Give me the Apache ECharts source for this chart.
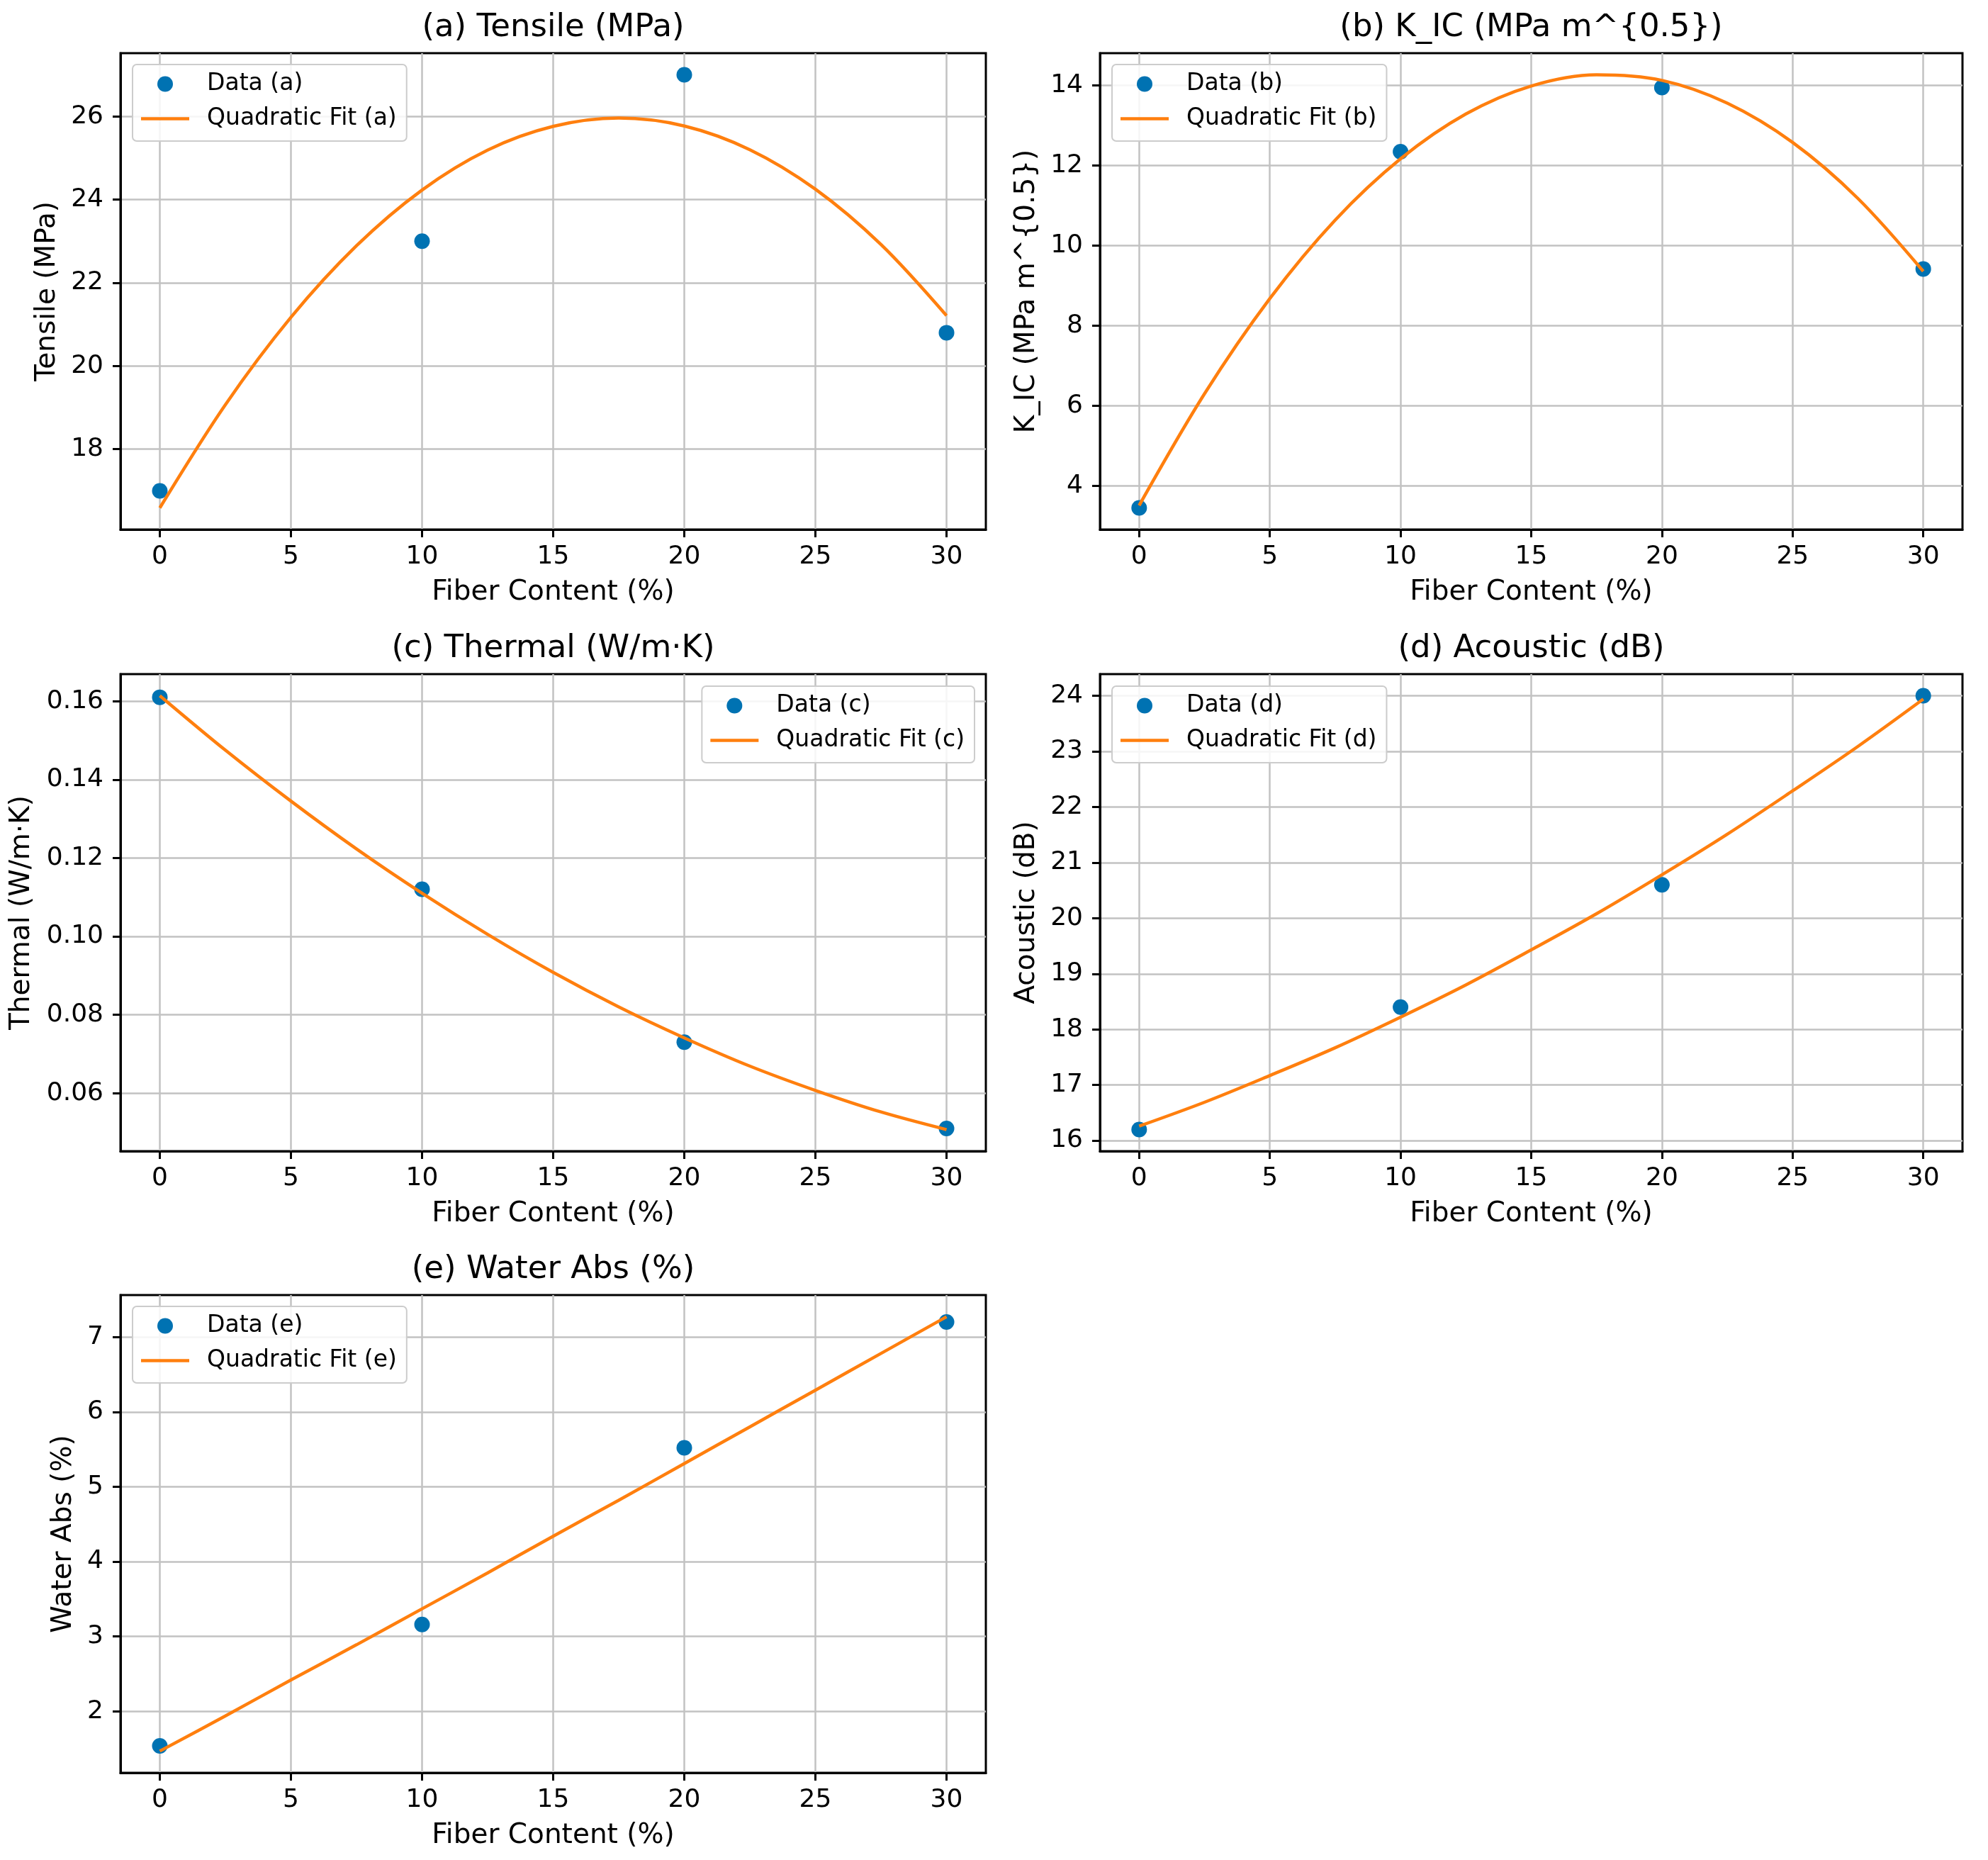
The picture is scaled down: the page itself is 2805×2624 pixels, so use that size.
<!DOCTYPE html>
<html>
<head>
<meta charset="utf-8">
<script src="https://cdn.jsdelivr.net/npm/echarts@6/dist/echarts.min.js"></script>
<style>
  html, body { margin: 0; padding: 0; background: #fff; }
  #main { width: 2805px; height: 2624px; }
</style>
</head>
<body>
<div id="main"></div>
<script>
// fibre content of the measured samples (%)
const fiberX = [0, 10, 20, 30];
const fitX = [0, 2.5, 5, 7.5, 10, 12.5, 15, 17.5, 20, 22.5, 25, 27.5, 30];
const xTicks = [0, 5, 10, 15, 20, 25, 30];

// (a) tensile strength
const tensile = [17.0, 23.0, 27.0, 20.8];
const tensileFit = [16.59, 19.07, 21.17, 22.89, 24.23, 25.19, 25.76, 25.96, 25.77, 25.20, 24.25, 22.92, 21.21];
const tensileTicks = [18, 20, 22, 24, 26];

// (b) fracture toughness
const kic = [3.45, 12.35, 13.95, 9.42];
const kicFit = [3.51, 6.30, 8.68, 10.64, 12.17, 13.29, 13.99, 14.27, 14.13, 13.56, 12.58, 11.18, 9.36];
const kicTicks = [4, 6, 8, 10, 12, 14];

// (c) thermal conductivity
const thermal = [0.161, 0.112, 0.073, 0.051];
const thermalFit = [0.1614, 0.1475, 0.1345, 0.1223, 0.1110, 0.1005, 0.0908, 0.0820, 0.0741, 0.0669, 0.0607, 0.0552, 0.0507];
const thermalTicks = [0.06, 0.08, 0.10, 0.12, 0.14, 0.16];

// (d) acoustic
const acoustic = [16.2, 18.4, 20.6, 24.0];
const acousticFit = [16.26, 16.69, 17.17, 17.67, 18.22, 18.80, 19.43, 20.08, 20.78, 21.51, 22.29, 23.09, 23.94];
const acousticTicks = [16, 17, 18, 19, 20, 21, 22, 23, 24];

// (e) water absorption
const water = [1.54, 3.16, 5.52, 7.20];
const waterFit = [1.47, 1.94, 2.42, 2.89, 3.37, 3.85, 4.34, 4.82, 5.31, 5.80, 6.29, 6.78, 7.27];
const waterTicks = [2, 3, 4, 5, 6, 7];

const FONT = 'DejaVu Sans';
const BLUE = '#0072b2';
const ORANGE = '#ff7f0e';
const GRID_GREY = '#c2c2c2';
// flat bar used as the legend swatch of the fit line
const LINE_ICON = 'path://M0,0H68V4.5H0Z';

const panels = [
    { key: 'a', title: '(a) Tensile (MPa)', yName: 'Tensile (MPa)', data: tensile, fit: tensileFit,
      ticks: tensileTicks, dec: 0, min: 16.07, max: 27.52, box: [170, 75, 1221, 672], nameGap: 84,
      legend: { left: 187, top: 91 } },
    { key: 'b', title: '(b) K_IC (MPa m^{0.5})', yName: 'K_IC (MPa m^{0.5})', data: kic, fit: kicFit,
      ticks: kicTicks, dec: 0, min: 2.91, max: 14.81, box: [1552, 75, 1217, 672], nameGap: 84,
      legend: { left: 1569, top: 91 } },
    { key: 'c', title: '(c) Thermal (W/m·K)', yName: 'Thermal (W/m·K)', data: thermal, fit: thermalFit,
      ticks: thermalTicks, dec: 2, min: 0.0452, max: 0.1669, box: [170, 951, 1221, 673], nameGap: 120,
      legend: { right: 1430, top: 968 } },
    { key: 'd', title: '(d) Acoustic (dB)', yName: 'Acoustic (dB)', data: acoustic, fit: acousticFit,
      ticks: acousticTicks, dec: 0, min: 15.81, max: 24.39, box: [1552, 951, 1217, 673], nameGap: 84,
      legend: { left: 1569, top: 968 } },
    { key: 'e', title: '(e) Water Abs (%)', yName: 'Water Abs (%)', data: water, fit: waterFit,
      ticks: waterTicks, dec: 0, min: 1.18, max: 7.56, box: [170, 1827, 1221, 674], nameGap: 61,
      legend: { left: 187, top: 1843 } }
];

const grid = [], xAxis = [], yAxis = [], series = [], legend = [], graphic = [];

panels.forEach((p, i) => {
    const [left, top, width, height] = p.box;
    grid.push({
        left, top, width, height,
        show: true, borderColor: '#000', borderWidth: 3,
        containLabel: false, outerBoundsMode: 'none'
    });
    xAxis.push({
        gridIndex: i, type: 'value', min: -1.5, max: 31.5,
        name: 'Fiber Content (%)', nameLocation: 'middle', nameGap: 69,
        nameTextStyle: { fontSize: 39, fontFamily: FONT, color: '#000' },
        axisLine: { show: true, onZero: false, lineStyle: { color: '#000', width: 3 } },
        axisTick: { show: true, length: 11, lineStyle: { color: '#000', width: 3 }, customValues: xTicks },
        axisLabel: { fontSize: 36, fontFamily: FONT, color: '#000', margin: 21, customValues: xTicks },
        splitLine: { show: true, lineStyle: { color: GRID_GREY, width: 2.5 } }
    });
    yAxis.push({
        gridIndex: i, type: 'value', min: p.min, max: p.max,
        name: p.yName, nameLocation: 'middle', nameGap: p.nameGap,
        nameTextStyle: { fontSize: 39, fontFamily: FONT, color: '#000' },
        axisLine: { show: true, onZero: false, lineStyle: { color: '#000', width: 3 } },
        axisTick: { show: true, length: 11, lineStyle: { color: '#000', width: 3 }, customValues: p.ticks },
        axisLabel: {
            fontSize: 36, fontFamily: FONT, color: '#000', margin: 24, customValues: p.ticks,
            formatter: v => Number(v).toFixed(p.dec)
        },
        splitLine: { show: true, lineStyle: { color: GRID_GREY, width: 2.5 } }
    });
    series.push({
        type: 'scatter', name: 'Data (' + p.key + ')',
        xAxisIndex: i, yAxisIndex: i,
        data: fiberX.map((x, k) => [x, p.data[k]]),
        symbolSize: 22, itemStyle: { color: BLUE, opacity: 1 }, z: 2
    });
    series.push({
        type: 'line', name: 'Quadratic Fit (' + p.key + ')',
        xAxisIndex: i, yAxisIndex: i,
        data: fitX.map((x, k) => [x, p.fit[k]]),
        smooth: 0.33, symbol: 'none',
        lineStyle: { color: ORANGE, width: 4.5 }, itemStyle: { color: ORANGE }, z: 3
    });
    legend.push(Object.assign({
        orient: 'vertical', selectedMode: false,
        data: [
            { name: 'Data (' + p.key + ')', icon: 'circle' },
            { name: 'Quadratic Fit (' + p.key + ')', icon: LINE_ICON }
        ],
        itemWidth: 68, itemHeight: 22, itemGap: 16,
        padding: [11, 14, 15, 12],
        backgroundColor: 'rgba(255,255,255,0.85)',
        borderColor: '#cccccc', borderWidth: 2, borderRadius: 6,
        itemStyle: { borderWidth: 0 },
        textStyle: { fontSize: 33, fontFamily: FONT, color: '#000', lineHeight: 32, padding: [0, 0, 0, 20] }
    }, p.legend));
    graphic.push({
        type: 'text',
        x: left + width / 2, y: top - 36,
        style: {
            text: p.title, font: '45px "DejaVu Sans"', fill: '#000',
            textAlign: 'center', textVerticalAlign: 'middle', align: 'center', verticalAlign: 'middle'
        }
    });
});

const chart = echarts.init(document.getElementById('main'), null, { renderer: 'canvas' });
chart.setOption({
    animation: false,
    backgroundColor: '#fff',
    grid, xAxis, yAxis, series, legend, graphic
});
</script>
</body>
</html>
